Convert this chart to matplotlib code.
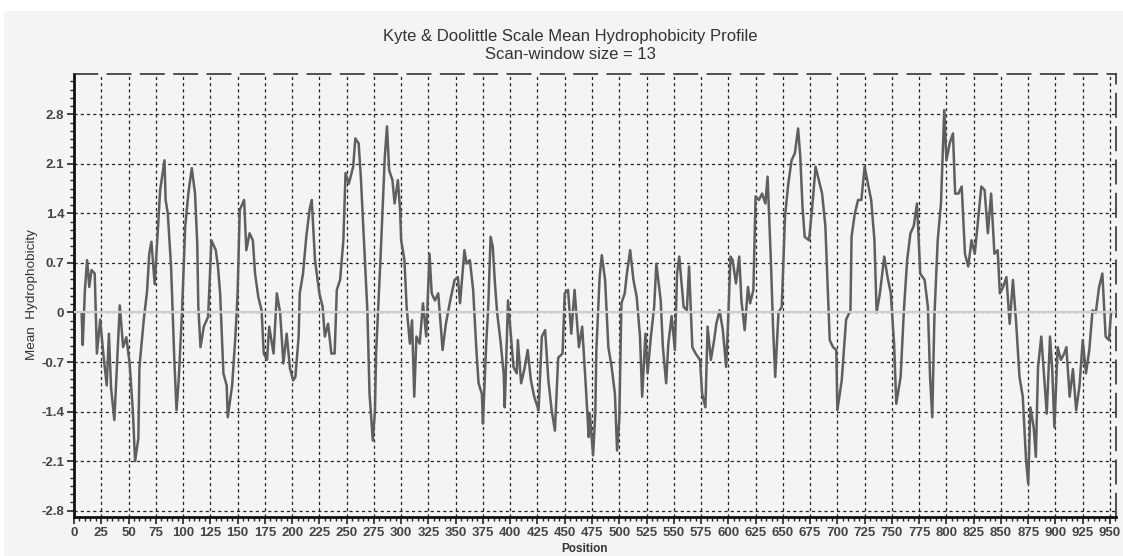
import numpy as np
import matplotlib
matplotlib.use("Agg")
import matplotlib.pyplot as plt
from matplotlib.patches import Rectangle
from matplotlib.ticker import MultipleLocator

# residue position and window-mean hydrophobicity
positions = [
    7, 8, 10, 12, 14, 16, 19, 21, 24, 27, 30, 32, 34, 37, 42, 45, 48, 51, 54, 56,
    59, 60, 64, 67, 69, 71, 74, 76, 79, 83, 84, 86, 89, 92, 94, 96, 99, 102, 105, 108,
    111, 113, 114, 116, 119, 123, 126, 130, 132, 134, 137, 140, 141, 145, 148, 150, 152, 156, 158, 161,
    164, 166, 169, 172, 174, 177, 179, 183, 185, 186, 189, 192, 195, 198, 201, 203, 206, 207, 210, 213,
    216, 218, 221, 225, 228, 230, 233, 236, 239, 241, 244, 247, 249, 252, 256, 258, 261, 263, 266, 269,
    271, 274, 276, 277, 281, 284, 285, 287, 289, 292, 294, 297, 299, 300, 303, 305, 308, 310, 312, 314,
    317, 320, 323, 326, 328, 331, 334, 338, 341, 345, 349, 352, 354, 358, 360, 363, 366, 369, 371, 374,
    375, 378, 380, 382, 384, 386, 388, 391, 394, 395, 398, 400, 403, 406, 407, 410, 413, 416, 419, 422,
    426, 429, 432, 435, 438, 441, 444, 448, 450, 453, 456, 459, 463, 466, 469, 472, 473, 476, 478, 479,
    482, 484, 487, 490, 493, 496, 498, 500, 502, 505, 507, 510, 513, 516, 519, 521, 524, 526, 529, 532,
    534, 538, 540, 543, 545, 548, 551, 553, 555, 559, 562, 564, 567, 570, 574, 576, 579, 581, 584, 587,
    589, 592, 595, 598, 600, 602, 604, 607, 610, 612, 615, 618, 620, 623, 625, 628, 631, 634, 636, 639,
    641, 643, 646, 649, 652, 655, 658, 661, 664, 666, 668, 670, 674, 677, 680, 683, 686, 689, 693, 696,
    699, 700, 704, 708, 712, 713, 716, 719, 722, 725, 728, 731, 734, 736, 739, 743, 746, 749, 752, 754,
    758, 761, 764, 767, 770, 773, 776, 780, 783, 785, 787, 789, 792, 795, 798, 800, 803, 806, 808, 811,
    814, 817, 820, 823, 826, 829, 832, 835, 838, 841, 844, 847, 849, 852, 855, 858, 861, 864, 867, 870,
    873, 875, 877, 880, 882, 884, 887, 889, 892, 895, 897, 899, 902, 905, 908, 910, 913, 916, 919, 922,
    925, 928, 931, 934, 937, 940, 943, 946, 949, 951,
]
hydrophobicity = [
    -0.02, -0.46, 0.32, 0.74, 0.36, 0.60, 0.55, -0.58, -0.10, -0.60, -1.03, -0.30, -1.07, -1.52, 0.10, -0.49, -0.35, -0.72, -1.40, -2.10,
    -1.78, -0.77, -0.10, 0.30, 0.83, 1.00, 0.40, 0.93, 1.73, 2.15, 1.59, 1.40, 0.65, -0.67, -1.38, -0.96, 0.00, 1.22, 1.70, 2.04,
    1.68, 0.98, 0.08, -0.49, -0.20, -0.06, 1.02, 0.88, 0.65, 0.27, -0.86, -1.03, -1.48, -1.03, -0.34, 0.27, 1.45, 1.59, 0.88, 1.12,
    1.02, 0.55, 0.22, 0.03, -0.58, -0.67, -0.20, -0.58, 0.00, 0.27, 0.00, -0.72, -0.30, -0.79, -0.96, -0.91, -0.34, 0.27, 0.55, 1.07,
    1.45, 1.59, 0.74, 0.27, 0.08, -0.34, -0.16, -0.58, -0.58, 0.32, 0.46, 1.02, 1.97, 1.82, 2.06, 2.46, 2.39, 1.92, 0.98, 0.03,
    -1.15, -1.81, -1.38, -0.58, 0.74, 1.82, 2.20, 2.63, 2.01, 1.87, 1.54, 1.87, 1.45, 1.02, 0.74, 0.08, -0.44, -0.11, -1.19, -0.34,
    -0.44, 0.13, -0.34, 0.83, 0.27, 0.17, 0.27, -0.53, -0.16, 0.17, 0.46, 0.50, 0.13, 0.88, 0.69, 0.74, 0.32, -0.53, -1.00, -1.15,
    -1.57, -0.44, 0.13, 1.07, 0.93, 0.41, 0.00, -0.39, -0.86, -1.34, 0.17, -0.20, -0.77, -0.86, -0.39, -1.00, -0.80, -0.53, -0.96, -1.19,
    -1.38, -0.34, -0.25, -0.96, -1.38, -1.67, -0.64, -0.58, 0.27, 0.32, -0.30, 0.32, -0.49, -0.20, -0.96, -1.76, -1.43, -2.02, -1.43, -0.53,
    0.50, 0.81, 0.46, -0.49, -0.77, -1.15, -1.95, -1.52, 0.13, 0.27, 0.55, 0.88, 0.46, 0.22, -0.34, -1.19, -0.30, -0.86, -0.34, 0.08,
    0.69, 0.17, -0.49, -1.00, -0.44, -0.05, -0.53, 0.55, 0.79, 0.08, 0.03, 0.65, -0.49, -0.58, -0.67, -1.15, -1.34, -0.20, -0.67, -0.39,
    -0.16, 0.03, -0.25, -0.77, -0.05, 0.79, 0.74, 0.41, 0.79, 0.17, -0.25, 0.36, 0.13, 0.32, 1.64, 1.59, 1.68, 1.54, 1.92, 0.74,
    -0.20, -0.91, 0.00, 0.08, 1.36, 1.82, 2.15, 2.25, 2.60, 2.20, 1.50, 1.07, 1.02, 1.50, 2.06, 1.87, 1.68, 1.22, -0.39, -0.49,
    -0.53, -1.38, -0.96, -0.10, 0.03, 1.07, 1.40, 1.59, 1.59, 2.06, 1.82, 1.59, 1.02, 0.00, 0.27, 0.79, 0.50, 0.27, -0.44, -1.29,
    -0.91, 0.03, 0.74, 1.12, 1.22, 1.54, 0.55, 0.46, 0.08, -0.91, -1.48, -0.05, 1.02, 1.54, 2.86, 2.15, 2.39, 2.53, 1.68, 1.68,
    1.78, 0.83, 0.65, 1.02, 0.83, 1.31, 1.78, 1.73, 1.12, 1.68, 0.83, 0.88, 0.27, 0.36, 0.50, -0.16, 0.46, -0.16, -0.91, -1.19,
    -2.08, -2.42, -1.34, -1.62, -2.04, -0.77, -0.34, -0.77, -1.43, -0.34, -0.80, -1.62, -0.49, -0.67, -0.58, -0.49, -1.19, -0.80, -1.38, -1.04,
    -0.39, -0.86, -0.53, 0.03, 0.00, 0.36, 0.55, -0.34, -0.39, 0.00,
]
x_ticks = list(range(0, 951, 25))
y_ticks = [-2.8, -2.1, -1.4, -0.7, 0, 0.7, 1.4, 2.1, 2.8]
y_tick_labels = ["-2.8", "-2.1", "-1.4", "-0.7", "0", "0.7", "1.4", "2.1", "2.8"]

plt.rcParams["font.family"] = ["Liberation Sans", "DejaVu Sans"]

fig = plt.figure(figsize=(11.23, 5.56), dpi=100, facecolor="white")
fig.patches.append(Rectangle((0.004, 0), 0.996, 1 - 11 / 556, transform=fig.transFigure,
                             facecolor="#f4f4f4", edgecolor="none", zorder=-10))
ax = fig.add_axes([74 / 1123, 1 - 517 / 556, (1116 - 74) / 1123, (517 - 74) / 556])
ax.set_facecolor("#f4f4f4")

ax.plot(positions, hydrophobicity, color="#5f5f5f", linewidth=1.8, zorder=3)
ax.axhline(0, color="#cfcfcf", linewidth=1.6, zorder=4)

ax.set_xlim(0, 955.5)
ax.set_ylim(-2.89, 3.37)
ax.set_xticks(x_ticks)
ax.set_xticklabels([str(t) for t in x_ticks])
ax.set_yticks(y_ticks)
ax.set_yticklabels(y_tick_labels)
ax.xaxis.set_minor_locator(MultipleLocator(5))
ax.yaxis.set_minor_locator(MultipleLocator(0.7 / 6))
ax.tick_params(which="major", direction="out", length=5, width=1.2, color="#222222",
               labelsize=9.5, labelcolor="#444444", pad=2)
ax.tick_params(which="minor", direction="out", length=3, width=1, color="#222222")
for lbl in ax.get_xticklabels() + ax.get_yticklabels():
    lbl.set_fontweight("bold")

ax.grid(True, which="major", color="#222222", linestyle=(0, (2.5, 2.5)), linewidth=0.9, zorder=1)

for side in ["left", "bottom"]:
    ax.spines[side].set_linewidth(2)
    ax.spines[side].set_color("#111111")
for side in ["top", "right"]:
    ax.spines[side].set_linewidth(1.2)
    ax.spines[side].set_color("#333333")
    ax.spines[side].set_linestyle((0, (14, 6)))

fig.text(570 / 1123, 1 - 36 / 556, "Kyte & Doolittle Scale Mean Hydrophobicity Profile",
         ha="center", va="center", fontsize=12, color="#333333")
fig.text(570 / 1123, 1 - 54 / 556, "Scan-window size = 13",
         ha="center", va="center", fontsize=12, color="#333333")
fig.text(32 / 1123, 1 - 295 / 556, "Mean  Hydrophobicity", rotation=90,
         ha="center", va="center", fontsize=9.7, color="#333333")
fig.text(585 / 1123, 1 - 549 / 556, "Position", ha="center", va="center",
         fontsize=8.5, fontweight="bold", color="#333333")

fig.savefig("out.png", dpi=100, facecolor=fig.get_facecolor())
